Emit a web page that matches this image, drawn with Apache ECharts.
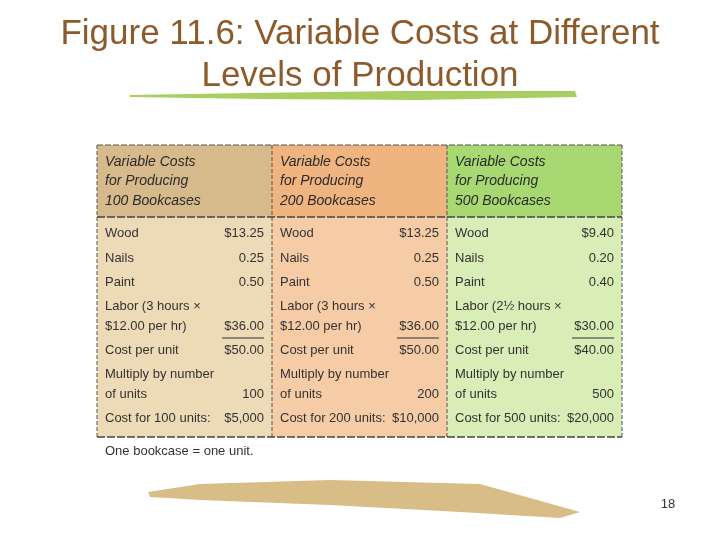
<!DOCTYPE html>
<html>
<head>
<meta charset="utf-8">
<script src="https://cdn.jsdelivr.net/npm/echarts@6/dist/echarts.min.js"></script>
<style>html,body{margin:0;background:#fff}#main{width:720px;height:540px}</style>
</head>
<body>
<div id="main"></div>
<script>
// 表格数据
var headers = [
    ['Variable Costs', 'for Producing', '100 Bookcases'],
    ['Variable Costs', 'for Producing', '200 Bookcases'],
    ['Variable Costs', 'for Producing', '500 Bookcases']
];
var rowLabels = [
    ['Wood', 'Nails', 'Paint', 'Labor (3 hours \u00d7\n$12.00 per hr)', 'Cost per unit', 'Multiply by number\nof units', 'Cost for 100 units:'],
    ['Wood', 'Nails', 'Paint', 'Labor (3 hours \u00d7\n$12.00 per hr)', 'Cost per unit', 'Multiply by number\nof units', 'Cost for 200 units:'],
    ['Wood', 'Nails', 'Paint', 'Labor (2\u00bd hours \u00d7\n$12.00 per hr)', 'Cost per unit', 'Multiply by number\nof units', 'Cost for 500 units:']
];
var rowValues = [
    ['$13.25', '0.25', '0.50', '$36.00', '$50.00', '100', '$5,000'],
    ['$13.25', '0.25', '0.50', '$36.00', '$50.00', '200', '$10,000'],
    ['$9.40', '0.20', '0.40', '$30.00', '$40.00', '500', '$20,000']
];

var headColors = ['#d7ba8b', '#efb47f', '#a8d872'];
var bodyColors = ['#eddab7', '#f6cca7', '#d9edb7'];
var labelY = [233, 258, 282, 306, 350, 374, 418];
var valueY = [233, 258, 282, 326, 350, 394, 418];

var myChart = echarts.init(document.getElementById('main'));
var font = '"Liberation Sans Narrow", "Liberation Sans", Arial, sans-serif';
var els = [];

// 标题
els.push({type: 'text', x: 360, y: 34, style: {
    text: 'Figure 11.6: Variable Costs at Different', font: '35px "Liberation Sans", Arial',
    fill: '#8d5a2b', align: 'center', verticalAlign: 'middle'
}});
els.push({type: 'text', x: 360, y: 76, style: {
    text: 'Levels of Production', font: '35px "Liberation Sans", Arial',
    fill: '#8d5a2b', align: 'center', verticalAlign: 'middle'
}});
// 笔刷装饰
els.push({type: 'polygon', shape: {points: [[130,95],[250,93],[400,91],[575,91],[577,97],[420,100],[260,99],[130,97]]}, style: {fill: '#a9cf62'}});
els.push({type: 'polygon', shape: {points: [[148,492],[200,484],[330,480],[480,484],[580,512],[560,518],[460,512],[330,505],[200,500],[150,497]]}, style: {fill: '#d9bd86'}});
els.push({type: 'text', x: 668, y: 504, style: {text: '18', font: '13px "Liberation Sans"', fill: '#333', align: 'center', verticalAlign: 'middle'}});

var x0 = 97, colW = 175;
for (var c = 0; c < 3; c++) {
    var x = x0 + c * colW;
    els.push({type: 'rect', shape: {x: x, y: 145, width: colW, height: 72}, style: {fill: headColors[c]}});
    els.push({type: 'rect', shape: {x: x, y: 217, width: colW, height: 220}, style: {fill: bodyColors[c]}});
    els.push({type: 'text', x: x + 8, y: 152, style: {
        text: headers[c].join('\n'), font: 'italic 14px ' + font, fill: '#2b2b2b', lineHeight: 19.5
    }});
    for (var r = 0; r < rowLabels[c].length; r++) {
        els.push({type: 'text', x: x + 8, y: labelY[r] - 10, style: {
            text: rowLabels[c][r], font: '13px ' + font, fill: '#333', lineHeight: 20
        }});
        els.push({type: 'text', x: x + colW - 8, y: valueY[r], style: {
            text: rowValues[c][r], font: '13px ' + font, fill: '#333', align: 'right', verticalAlign: 'middle'
        }});
        if (r === 3) {
            els.push({type: 'line', shape: {x1: x + colW - 50, y1: valueY[r] + 12, x2: x + colW - 8, y2: valueY[r] + 12}, style: {stroke: '#333', lineWidth: 1}});
        }
    }
    // 分隔线
    els.push({type: 'line', shape: {x1: x, y1: 145, x2: x, y2: 437}, style: {stroke: '#555', lineWidth: 1, lineDash: [4, 2]}});
}
els.push({type: 'line', shape: {x1: x0 + 3 * colW, y1: 145, x2: x0 + 3 * colW, y2: 437}, style: {stroke: '#555', lineWidth: 1, lineDash: [4, 2]}});
els.push({type: 'line', shape: {x1: x0, y1: 145, x2: x0 + 3 * colW, y2: 145}, style: {stroke: '#555', lineWidth: 1, lineDash: [6, 2]}});
els.push({type: 'line', shape: {x1: x0, y1: 217, x2: x0 + 3 * colW, y2: 217}, style: {stroke: '#444', lineWidth: 1.5, lineDash: [8, 2]}});
els.push({type: 'line', shape: {x1: x0, y1: 437, x2: x0 + 3 * colW, y2: 437}, style: {stroke: '#444', lineWidth: 1.5, lineDash: [8, 2]}});
els.push({type: 'text', x: 105, y: 451, style: {text: 'One bookcase = one unit.', font: '13px ' + font, fill: '#333', verticalAlign: 'middle'}});

myChart.setOption({graphic: {elements: els}});
</script>
</body>
</html>
